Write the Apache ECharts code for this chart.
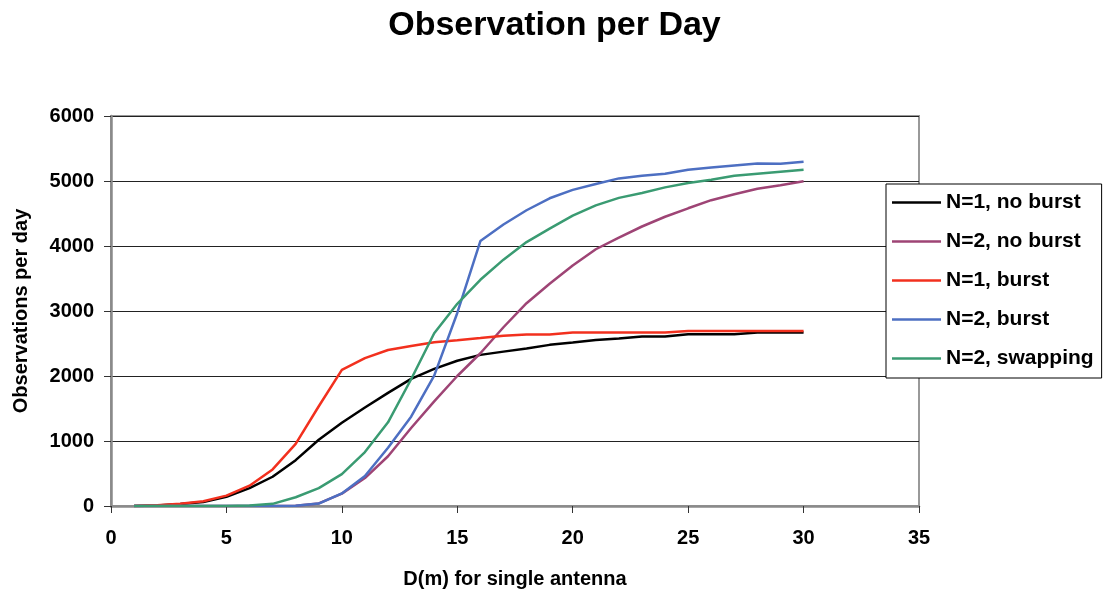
<!DOCTYPE html>
<html>
<head>
<meta charset="utf-8">
<script src="https://cdn.jsdelivr.net/npm/echarts@6/dist/echarts.min.js"></script>
<style>
html,body{margin:0;padding:0;background:#fff;}
#chart{width:1109px;height:594px;}
</style>
</head>
<body>
<div id="chart"></div>
<script>
var xValues = [1,2,3,4,5,6,7,8,9,10,11,12,13,14,15,16,17,18,19,20,21,22,23,24,25,26,27,28,29,30];
var n1NoBurst = [0,6,31,61,140,275,450,705,1020,1280,1515,1740,1955,2110,2235,2325,2375,2423,2479,2515,2555,2577,2607,2607,2642,2642,2642,2668,2668,2668];
var n2NoBurst = [0,0,0,0,0,0,0,5,40,190,430,765,1200,1610,2000,2350,2750,3120,3420,3700,3950,4130,4300,4450,4580,4705,4795,4880,4935,4995];
var n1Burst = [0,10,35,74,160,313,563,957,1535,2095,2275,2400,2463,2520,2550,2583,2618,2638,2638,2669,2669,2669,2669,2669,2694,2694,2694,2694,2694,2694];
var n2Burst = [0,0,0,0,0,0,0,5,38,193,462,895,1374,2006,2970,4076,4330,4550,4734,4864,4955,5040,5081,5112,5173,5209,5240,5270,5265,5296];
var n2Swapping = [0,0,0,0,0,8,33,135,275,490,830,1287,1950,2657,3110,3480,3790,4060,4268,4468,4625,4740,4816,4902,4969,5020,5081,5112,5143,5173];
var seriesNames = ['N=1, no burst','N=2, no burst','N=1, burst','N=2, burst','N=2, swapping'];
var seriesValues = [n1NoBurst, n2NoBurst, n1Burst, n2Burst, n2Swapping];
var seriesColors = ['#000000','#9E4475','#F2301E','#4D6FC2','#3A9B72'];

var FONT = '"Liberation Sans", Arial, sans-serif';

function pairs(vals){ return xValues.map(function(x,i){ return [x, vals[i]]; }); }

var series = seriesNames.map(function(name, k){
  return {
    name: name,
    type: 'line',
    data: pairs(seriesValues[k]),
    symbol: 'none',
    color: seriesColors[k],
    lineStyle: {width: 2.5, color: seriesColors[k]},
    z: 3 + k
  };
});

var chart = echarts.init(document.getElementById('chart'), null, {renderer: 'canvas'});
chart.setOption({
  animation: false,
  backgroundColor: '#ffffff',
  title: {
    text: 'Observation per Day',
    left: 'center',
    top: 4,
    textStyle: {fontFamily: FONT, fontWeight: 'bold', fontSize: 34, color: '#000'}
  },
  grid: {
    left: 111, right: 190, top: 116, bottom: 87,
    show: true, backgroundColor: '#fff', borderColor: '#999', borderWidth: 2
  },
  legend: {
    orient: 'vertical',
    left: 886, top: 184,
    backgroundColor: '#fff',
    borderColor: '#000', borderWidth: 1,
    padding: [8, 8, 9, 6],
    icon: 'rect',
    itemWidth: 49, itemHeight: 2.5,
    itemGap: 18,
    textStyle: {fontFamily: FONT, fontWeight: 'bold', fontSize: 21, color: '#000', lineHeight: 20},
    data: seriesNames
  },
  xAxis: {
    type: 'value',
    min: 0, max: 35, interval: 5,
    name: 'D(m) for single antenna',
    nameLocation: 'middle',
    nameGap: 63,
    nameTextStyle: {fontFamily: FONT, fontWeight: 'bold', fontSize: 20, color: '#000'},
    axisLine: {show: true, lineStyle: {color: '#8a8a8a', width: 2.5}},
    axisTick: {show: true, inside: false, length: 7, lineStyle: {color: '#333', width: 1}},
    axisLabel: {fontFamily: FONT, fontWeight: 'bold', fontSize: 20, color: '#000', margin: 22,
      formatter: function(v){ return String(v); }},
    splitLine: {show: false}
  },
  yAxis: {
    type: 'value',
    min: 0, max: 6000, interval: 1000,
    name: 'Observations per day',
    nameLocation: 'middle',
    nameGap: 80,
    nameRotate: 90,
    nameTextStyle: {fontFamily: FONT, fontWeight: 'bold', fontSize: 20, color: '#000'},
    axisLine: {show: true, lineStyle: {color: '#8a8a8a', width: 2.5}},
    axisTick: {show: true, inside: false, length: 7, lineStyle: {color: '#333', width: 1}},
    axisLabel: {fontFamily: FONT, fontWeight: 'bold', fontSize: 20, color: '#000', margin: 17,
      formatter: function(v){ return String(v); }},
    splitLine: {show: true, lineStyle: {color: '#222', width: 1}}
  },
  series: series
});
</script>
</body>
</html>
